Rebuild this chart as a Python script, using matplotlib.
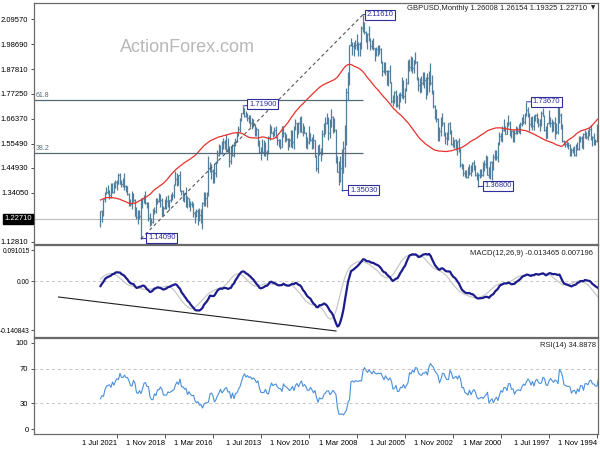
import numpy as np
import pandas as pd
import matplotlib
matplotlib.use("Agg")
import matplotlib.pyplot as plt
import matplotlib.transforms as mtransforms
from matplotlib.collections import LineCollection

plt.rcParams['font.family'] = ['Liberation Sans', 'DejaVu Sans']

# ---------------- data ----------------
# monthly closes Jan 1990 - Oct 1994 (indicator warm-up, left of the visible range)
pre_close = [
    1.6900, 1.6960, 1.6440, 1.6370, 1.6820, 1.7510, 1.8500, 1.8930, 1.8700, 1.9500, 1.9400, 1.9300,
    1.9600, 1.8950, 1.7500, 1.7200, 1.7200, 1.6200, 1.6850, 1.7000, 1.7500, 1.7300, 1.7800, 1.8700,
    1.7800, 1.7500, 1.7300, 1.7800, 1.8300, 1.9000, 1.9200, 1.9800, 1.7700, 1.5800, 1.5200, 1.5100,
    1.4900, 1.4400, 1.5100, 1.5600, 1.5500, 1.4900, 1.4900, 1.5000, 1.4900, 1.4800, 1.4800, 1.4800,
    1.5000, 1.4800, 1.4900, 1.5100, 1.5100, 1.5400, 1.5400, 1.5400, 1.5800, 1.6300,
]

# GBPUSD monthly bars, Nov 1994 - Jun 2022
high = [
    1.6400, 1.5750,
    1.6000, 1.5900, 1.6350, 1.6250, 1.6100, 1.6050, 1.6150, 1.6000, 1.5900, 1.5900, 1.5900, 1.5600,
    1.5550, 1.5450, 1.5400, 1.5350, 1.5550, 1.5600, 1.5650, 1.5650, 1.5700, 1.6400, 1.6900, 1.7150,
    1.7200, 1.6450, 1.6700, 1.6550, 1.6600, 1.6700, 1.7000, 1.6450, 1.6300, 1.6800, 1.7100, 1.6950,
    1.6600, 1.6650, 1.6900, 1.6850, 1.6800, 1.6750, 1.6650, 1.6900, 1.7150, 1.7367, 1.6900, 1.6850,
    1.6700, 1.6500, 1.6400, 1.6250, 1.6300, 1.6150, 1.6150, 1.6150, 1.6550, 1.6800, 1.6500, 1.6300,
    1.6600, 1.6300, 1.6000, 1.6050, 1.5600, 1.5250, 1.5250, 1.5100, 1.4800, 1.4800, 1.4550, 1.5000,
    1.5050, 1.4850, 1.4750, 1.4450, 1.4450, 1.4250, 1.4300, 1.4600, 1.4850, 1.4750, 1.4600, 1.4650,
    1.4550, 1.4400, 1.4400, 1.4650, 1.4700, 1.5350, 1.5800, 1.5650, 1.5750, 1.5700, 1.5850, 1.6150,
    1.6500, 1.6450, 1.6050, 1.6050, 1.6500, 1.6900, 1.6700, 1.6250, 1.6650, 1.7050, 1.7250, 1.7900,
    1.8550, 1.9050, 1.8700, 1.8600, 1.8450, 1.8650, 1.8650, 1.8500, 1.8400, 1.8450, 1.9150, 1.9550,
    1.9150, 1.9300, 1.9350, 1.9250, 1.9200, 1.8400, 1.7950, 1.8300, 1.8450, 1.7800, 1.7750, 1.7650,
    1.7900, 1.7850, 1.7650, 1.8250, 1.8950, 1.8750, 1.8750, 1.9100, 1.9100, 1.9150, 1.9700, 1.9850,
    1.9850, 1.9750, 1.9700, 2.0150, 2.0050, 2.0150, 2.0650, 2.0350, 2.0450, 2.0850, 2.1161, 2.0650,
    1.9950, 1.9950, 2.0300, 2.0050, 1.9950, 1.9950, 2.0150, 1.9850, 1.8650, 1.7950, 1.6350, 1.5650,
    1.5300, 1.5000, 1.4800, 1.5000, 1.6200, 1.6650, 1.6750, 1.7050, 1.6600, 1.6700, 1.6900, 1.6700,
    1.6450, 1.6150, 1.5350, 1.5550, 1.5500, 1.5050, 1.5700, 1.5950, 1.5850, 1.6000, 1.6300, 1.5850,
    1.6050, 1.6300, 1.6450, 1.6750, 1.6700, 1.6500, 1.6450, 1.6600, 1.6300, 1.6150, 1.6150, 1.5800,
    1.5800, 1.5950, 1.6050, 1.6300, 1.6300, 1.5750, 1.5750, 1.5900, 1.6300, 1.6250, 1.6100, 1.6300,
    1.6400, 1.5900, 1.5250, 1.5600, 1.5700, 1.5750, 1.5400, 1.5700, 1.6200, 1.6250, 1.6400, 1.6600,
    1.6650, 1.6800, 1.6800, 1.6900, 1.6950, 1.7100, 1.7191, 1.6900, 1.6650, 1.6300, 1.6050, 1.5800,
    1.5600, 1.5550, 1.5450, 1.5450, 1.5800, 1.5950, 1.5700, 1.5800, 1.5650, 1.5500, 1.5550, 1.5250,
    1.4800, 1.4650, 1.4450, 1.4650, 1.4750, 1.5000, 1.3450, 1.3450, 1.3450, 1.3000, 1.2700, 1.2750,
    1.2700, 1.2700, 1.2600, 1.2950, 1.3050, 1.3050, 1.3200, 1.3250, 1.3650, 1.3350, 1.3550, 1.3550,
    1.4350, 1.4150, 1.4250, 1.4377, 1.3800, 1.3450, 1.3350, 1.3100, 1.3300, 1.3250, 1.3150, 1.2850,
    1.3200, 1.3350, 1.3400, 1.3200, 1.3200, 1.2800, 1.2700, 1.2300, 1.2550, 1.3000, 1.3000, 1.3500,
    1.3300, 1.3200, 1.3200, 1.2650, 1.2650, 1.2800, 1.3150, 1.3400, 1.3500, 1.3150, 1.3400, 1.3700,
    1.3750, 1.4250, 1.4050, 1.3950, 1.4250, 1.4249, 1.3950, 1.3950, 1.3900, 1.3850, 1.3850, 1.3550,
    1.3750, 1.3650, 1.3450, 1.3150, 1.2650, 1.26154,
]
low = [
    1.5600, 1.5500,
    1.5500, 1.5450, 1.5700, 1.5900, 1.5700, 1.5750, 1.5800, 1.5300, 1.5350, 1.5600, 1.5250, 1.5250,
    1.5000, 1.5000, 1.5150, 1.5000, 1.5000, 1.5300, 1.5400, 1.5400, 1.5500, 1.5600, 1.6200, 1.6450,
    1.5950, 1.5950, 1.5750, 1.6100, 1.6050, 1.6250, 1.6400, 1.5800, 1.5750, 1.6100, 1.6750, 1.6300,
    1.6100, 1.6250, 1.6450, 1.6550, 1.6150, 1.6150, 1.6250, 1.6100, 1.6700, 1.6750, 1.6400, 1.6400,
    1.6300, 1.5950, 1.6000, 1.5950, 1.5950, 1.5600, 1.5600, 1.5800, 1.5900, 1.6300, 1.5950, 1.5950,
    1.6100, 1.5600, 1.5650, 1.5500, 1.4750, 1.4850, 1.4850, 1.4400, 1.3950, 1.4000, 1.4050, 1.4200,
    1.4500, 1.4350, 1.4150, 1.4100, 1.4050, 1.3680, 1.3950, 1.4150, 1.4400, 1.4300, 1.4150, 1.4200,
    1.4050, 1.4050, 1.4100, 1.4150, 1.4450, 1.4550, 1.5200, 1.5050, 1.5250, 1.5350, 1.5400, 1.5500,
    1.5950, 1.5700, 1.5500, 1.5550, 1.5900, 1.6300, 1.5900, 1.5650, 1.5650, 1.6500, 1.6600, 1.7100,
    1.7700, 1.8100, 1.7800, 1.7650, 1.7500, 1.7950, 1.8100, 1.7800, 1.7750, 1.7850, 1.8300, 1.9000,
    1.8600, 1.8600, 1.8700, 1.8700, 1.8150, 1.7850, 1.7300, 1.7500, 1.7550, 1.7350, 1.7050, 1.7150,
    1.7150, 1.7300, 1.7200, 1.7300, 1.8200, 1.8050, 1.8100, 1.8550, 1.8600, 1.8500, 1.9050, 1.9450,
    1.9350, 1.9350, 1.9150, 1.9600, 1.9650, 1.9600, 2.0000, 1.9650, 1.9950, 2.0300, 2.0400, 1.9650,
    1.9350, 1.9350, 1.9600, 1.9650, 1.9350, 1.9400, 1.9800, 1.8100, 1.7450, 1.5500, 1.4550, 1.4250,
    1.3503, 1.3900, 1.3750, 1.4300, 1.4700, 1.6050, 1.6000, 1.6250, 1.5800, 1.5700, 1.6400, 1.5950,
    1.5850, 1.5050, 1.4800, 1.5050, 1.4250, 1.4350, 1.4950, 1.5350, 1.5300, 1.5650, 1.5550, 1.5300,
    1.5350, 1.6000, 1.5900, 1.6050, 1.6050, 1.5950, 1.5800, 1.6150, 1.5300, 1.5350, 1.5400, 1.5400,
    1.5250, 1.5650, 1.5600, 1.5850, 1.5400, 1.5300, 1.5400, 1.5500, 1.5800, 1.5900, 1.5850, 1.6000,
    1.5700, 1.5100, 1.4850, 1.5000, 1.5000, 1.5150, 1.4814, 1.5150, 1.5450, 1.5900, 1.5900, 1.6250,
    1.6200, 1.6250, 1.6450, 1.6550, 1.6700, 1.6700, 1.6850, 1.6550, 1.6050, 1.5900, 1.5600, 1.5450,
    1.4950, 1.5000, 1.4650, 1.4550, 1.5150, 1.5200, 1.5300, 1.5300, 1.5100, 1.5100, 1.5000, 1.4700,
    1.4100, 1.3850, 1.3850, 1.4000, 1.4300, 1.3250, 1.2800, 1.2850, 1.2850, 1.1841, 1.2100, 1.2200,
    1.1990, 1.2350, 1.2100, 1.2350, 1.2800, 1.2600, 1.2800, 1.2750, 1.2800, 1.3000, 1.3050, 1.3300,
    1.3500, 1.3750, 1.3700, 1.3750, 1.3200, 1.3100, 1.3000, 1.2650, 1.2800, 1.2700, 1.2700, 1.2450,
    1.2400, 1.2800, 1.3000, 1.2900, 1.2550, 1.2500, 1.2100, 1.2000, 1.1959, 1.2200, 1.2750, 1.2900,
    1.2950, 1.2750, 1.1409, 1.2250, 1.2050, 1.2250, 1.2450, 1.3000, 1.2700, 1.2850, 1.2850, 1.3300,
    1.3450, 1.3550, 1.3650, 1.3650, 1.3800, 1.3800, 1.3550, 1.3600, 1.3400, 1.3400, 1.3200, 1.3150,
    1.3350, 1.3350, 1.3000, 1.2400, 1.2150, 1.19325,
]
close = [
    1.5650, 1.5650,
    1.5850, 1.5850, 1.6200, 1.6150, 1.5850, 1.5950, 1.5950, 1.5450, 1.5800, 1.5800, 1.5300, 1.5500,
    1.5050, 1.5300, 1.5250, 1.5050, 1.5500, 1.5550, 1.5550, 1.5600, 1.5650, 1.6350, 1.6800, 1.7100,
    1.6050, 1.6350, 1.6450, 1.6250, 1.6450, 1.6650, 1.6450, 1.6100, 1.6150, 1.6750, 1.6900, 1.6450,
    1.6400, 1.6500, 1.6800, 1.6700, 1.6300, 1.6700, 1.6400, 1.6800, 1.7000, 1.6800, 1.6500, 1.6600,
    1.6400, 1.6050, 1.6100, 1.6100, 1.6000, 1.5750, 1.6100, 1.6050, 1.6450, 1.6450, 1.5950, 1.6150,
    1.6150, 1.5800, 1.5900, 1.5550, 1.4950, 1.5150, 1.4950, 1.4500, 1.4750, 1.4550, 1.4200, 1.4950,
    1.4650, 1.4450, 1.4200, 1.4300, 1.4200, 1.4100, 1.4200, 1.4500, 1.4700, 1.4550, 1.4250, 1.4550,
    1.4100, 1.4200, 1.4250, 1.4600, 1.4600, 1.5300, 1.5650, 1.5400, 1.5700, 1.5600, 1.5550, 1.6100,
    1.6450, 1.5800, 1.5800, 1.6000, 1.6450, 1.6500, 1.6100, 1.5800, 1.6600, 1.6950, 1.7200, 1.7850,
    1.8200, 1.8650, 1.8400, 1.7750, 1.8300, 1.8150, 1.8200, 1.8000, 1.8100, 1.8350, 1.9100, 1.9200,
    1.8850, 1.9200, 1.8900, 1.9100, 1.8200, 1.7900, 1.7600, 1.8000, 1.7650, 1.7700, 1.7250, 1.7200,
    1.7800, 1.7500, 1.7400, 1.8250, 1.8700, 1.8500, 1.8700, 1.9050, 1.8700, 1.9100, 1.9650, 1.9600,
    1.9650, 1.9600, 1.9700, 2.0000, 1.9800, 2.0050, 2.0300, 2.0150, 2.0400, 2.0800, 2.0600, 1.9850,
    1.9900, 1.9850, 1.9850, 1.9900, 1.9800, 1.9900, 1.9850, 1.8200, 1.7800, 1.6150, 1.5350, 1.4400,
    1.4500, 1.4300, 1.4300, 1.4800, 1.6150, 1.6450, 1.6700, 1.6300, 1.6000, 1.6450, 1.6450, 1.6150,
    1.5950, 1.5250, 1.5200, 1.5300, 1.4500, 1.4950, 1.5700, 1.5350, 1.5700, 1.6000, 1.5600, 1.5600,
    1.6000, 1.6250, 1.6050, 1.6700, 1.6450, 1.6050, 1.6450, 1.6250, 1.5600, 1.6100, 1.5700, 1.5550,
    1.5750, 1.5900, 1.6000, 1.6250, 1.5400, 1.5700, 1.5700, 1.5850, 1.6150, 1.6100, 1.6000, 1.6250,
    1.5850, 1.5150, 1.5200, 1.5550, 1.5200, 1.5200, 1.5200, 1.5500, 1.6200, 1.6050, 1.6350, 1.6550,
    1.6450, 1.6700, 1.6650, 1.6850, 1.6750, 1.7100, 1.6900, 1.6600, 1.6200, 1.6000, 1.5650, 1.5600,
    1.5050, 1.5450, 1.4800, 1.5350, 1.5300, 1.5700, 1.5600, 1.5350, 1.5150, 1.5450, 1.5050, 1.4750,
    1.4250, 1.3900, 1.4350, 1.4600, 1.4500, 1.3300, 1.3200, 1.3150, 1.2950, 1.2200, 1.2450, 1.2350,
    1.2600, 1.2400, 1.2550, 1.2950, 1.2900, 1.3000, 1.3200, 1.2900, 1.3400, 1.3300, 1.3500, 1.3500,
    1.4200, 1.3750, 1.4000, 1.3750, 1.3300, 1.3200, 1.3100, 1.3000, 1.3050, 1.2750, 1.2750, 1.2750,
    1.3100, 1.3250, 1.3050, 1.3050, 1.2600, 1.2700, 1.2150, 1.2150, 1.2300, 1.2950, 1.2950, 1.3250,
    1.3200, 1.2800, 1.2400, 1.2600, 1.2350, 1.2400, 1.3100, 1.3350, 1.2900, 1.2950, 1.3350, 1.3700,
    1.3700, 1.3950, 1.3800, 1.3800, 1.4200, 1.3800, 1.3900, 1.3750, 1.3450, 1.3700, 1.3300, 1.3500,
    1.3450, 1.3400, 1.3150, 1.2550, 1.2600, 1.22710,
]
last_open = 1.26008
assert len(high) == len(low) == len(close) == 332 and len(pre_close) == 58

# axis labels
x_tick_dates = [(1994, 11), (1997, 7), (2000, 3), (2002, 11), (2005, 7), (2008, 3),
                (2010, 11), (2013, 7), (2016, 3), (2018, 11), (2021, 7)]
x_tick_labels = ["1 Nov 1994", "1 Jul 1997", "1 Mar 2000", "1 Nov 2002", "1 Jul 2005",
                 "1 Mar 2008", "1 Nov 2010", "1 Jul 2013", "1 Mar 2016", "1 Nov 2018", "1 Jul 2021"]
price_ticks = [2.09570, 1.98690, 1.87810, 1.77250, 1.66370, 1.55490, 1.44930, 1.34050, 1.12810]
macd_ticks = [0.091015, 0.0, -0.140843]
macd_tick_labels = ["0.091015", "0.00", "-0.140843"]
rsi_ticks = [100, 70, 30, 0]

# price labels (date, value)
label_dates = [(2007, 11), (2009, 1), (2020, 3), (2014, 7), (2001, 6), (1998, 10)]
label_values = [2.11610, 1.35030, 1.14090, 1.71900, 1.36800, 1.73670]

# fibonacci from Nov 2007 high to Mar 2020 low
fib_high_date, fib_high = (2007, 11), 2.11610
fib_low_date, fib_low = (2020, 3), 1.14090
fib_levels = [61.8, 38.2]

# MACD trendline
macd_trend_dates = [(2024, 10), (2009, 5)]
macd_trend_values = [-0.0452, -0.1437]

title_text = "GBPUSD,Monthly 1.26008 1.26154 1.19325 1.22710"
macd_text = "MACD(12,26,9) -0.013465 0.007196"
rsi_text = "RSI(14) 34.8878"

# ---------------- derived ----------------
def midx(d):
    return (d[0] - 1990) * 12 + d[1] - 1

all_close = np.array(pre_close + close)
n_pre = len(pre_close)
idx = np.arange(len(all_close))
bar_idx = idx[n_pre:]
opens = np.array(all_close[n_pre - 1:-1])
opens[-1] = last_open
hi = np.array(high); lo = np.array(low); cl = np.array(close)

s = pd.Series(all_close)
sma = s.rolling(50).mean()
ema12 = s.ewm(span=12, adjust=False).mean()
ema26 = s.ewm(span=26, adjust=False).mean()
macd = ema12 - ema26
signal = macd.rolling(9).mean()
d = s.diff()
ag = d.clip(lower=0).ewm(alpha=1 / 14, adjust=False).mean()
al = (-d.clip(upper=0)).ewm(alpha=1 / 14, adjust=False).mean()
rsi = 100 - 100 / (1 + ag / al)

# ---------------- figure ----------------
W, H = 600, 450
fig = plt.figure(figsize=(6, 4.5), dpi=100)
fig.patch.set_facecolor('white')

def rect(top, bottom, left=34, right=598):
    return [left / W, 1 - bottom / H, (right - left) / W, (bottom - top) / H]

ax = fig.add_axes(rect(3, 244))
axm = fig.add_axes(rect(245, 337))
axr = fig.add_axes(rect(338, 434))
XL = (433.33, 57.33)
frame_c = '#6a6a6a'
for a in (ax, axm, axr):
    a.set_xlim(*XL)
    for sp in a.spines.values():
        sp.set_color(frame_c)
        sp.set_linewidth(0.9)
    a.tick_params(axis='y', labelsize=5.5, length=2.5, width=0.6, pad=1.5, color='#333333')
    a.tick_params(axis='x', labelsize=5.5, length=3, width=0.6, pad=1.5, color='#333333')
for a in (ax, axm):
    a.set_xticks([])

bar_c = '#527f9b'
segs = []
for i, o, h_, l_, c_ in zip(bar_idx, opens, hi, lo, cl):
    segs.append([(i, min(l_, o, c_)), (i, max(h_, o, c_))])
    segs.append([(i - 0.45, o), (i, o)])
    segs.append([(i, c_), (i + 0.45, c_)])
ax.add_collection(LineCollection(segs, colors=bar_c, linewidths=0.9))

ax.plot(idx, sma, color='#e8322c', lw=0.9)

ax.set_ylim(1.1181, 2.1666)
ax.set_yticks(price_ticks)
ax.set_yticklabels([f"{v:.5f}" for v in price_ticks])

# current price line and label
ax.axhline(cl[-1], color='#bcbcbc', lw=0.8, zorder=0)
tr = mtransforms.blended_transform_factory(ax.transAxes, ax.transData)
ax.text(-0.004, cl[-1], f"{cl[-1]:.5f}", transform=tr, ha='right', va='center',
        fontsize=5.5, color='white', zorder=5,
        bbox=dict(boxstyle='square,pad=0.15', fc='black', ec='black'))

# fibonacci lines
fib_c = '#566a76'
rng = fib_high - fib_low
for lv in fib_levels:
    y = fib_low + rng * lv / 100
    ax.hlines(y, midx(fib_high_date), XL[0], color=fib_c, lw=0.9)
    ax.text(XL[0] - 1, y + 0.004, f"{lv:.1f}", ha='left', va='bottom', fontsize=5, color=fib_c)
ax.plot([midx(fib_low_date), midx(fib_high_date)], [fib_low, fib_high],
        color='#555555', lw=0.8, ls=(0, (3, 2.5)))

# boxed price labels
lab_c = '#2e2e9e'
label_dx = [4, 8, 7, 6, 6, 6]
label_dy = [0, 0.5, 1, 1.5, 1, 0]
for dte, v, dx, dy in zip(label_dates, label_values, label_dx, label_dy):
    ax.annotate(f"{v:.5f}", xy=(midx(dte), v), xytext=(dx * 0.72, dy * 0.72),
                textcoords='offset points', ha='left', va='center', fontsize=5.5, color=lab_c,
                bbox=dict(boxstyle='square,pad=0.2', fc='white', ec=lab_c, lw=0.8),
                arrowprops=dict(arrowstyle='-', color=lab_c, lw=0.7, shrinkA=0, shrinkB=0),
                zorder=6)

ax.text((587 - 34) / 564, (244 - 8) / 241, title_text, transform=ax.transAxes,
        ha='right', va='center', fontsize=5.5, color='#222222')
ax.text((593 - 34) / 564, (244 - 8) / 241, "\u25BC", transform=ax.transAxes,
        ha='center', va='center', fontsize=4, color='#222222', family=['DejaVu Sans'])

fig.text(187 / W, 1 - 47 / H, "ActionForex.com", ha='center', va='center',
         fontsize=13, color='#b8b8b8')

# MACD panel
axm.set_ylim(-0.16113, 0.10551)
axm.axhline(0, color='#c4c4c4', lw=0.7, ls=(0, (3, 3)))
axm.plot(idx, signal, color='#c8c8c8', lw=0.9)
axm.plot(idx, macd, color='#1c1c8c', lw=1.6)
axm.plot([midx(dd) for dd in macd_trend_dates], macd_trend_values, color='#202020', lw=0.8)
axm.set_yticks(macd_ticks)
axm.set_yticklabels(macd_tick_labels)
axm.tick_params(axis='y', labelsize=4.8, length=2, pad=1)
axm.text((593 - 34) / 564, 0.91, macd_text, transform=axm.transAxes, ha='right', va='center',
         fontsize=5.5, color='#222222')

# RSI panel
axr.set_ylim(-5.8, 105.8)
for lv in (70, 30):
    axr.axhline(lv, color='#c4c4c4', lw=0.7, ls=(0, (3, 3)))
axr.plot(idx, rsi, color='#4a8fdc', lw=0.8)
axr.set_yticks(rsi_ticks)
axr.set_yticklabels([str(v) for v in rsi_ticks])
axr.text((596 - 34) / 564, 0.925, rsi_text, transform=axr.transAxes, ha='right', va='center',
         fontsize=5.5, color='#222222')
axr.set_xticks([midx(dd) for dd in x_tick_dates])
axr.set_xticklabels(x_tick_labels, ha='right')

fig.savefig("out.png", dpi=100)
